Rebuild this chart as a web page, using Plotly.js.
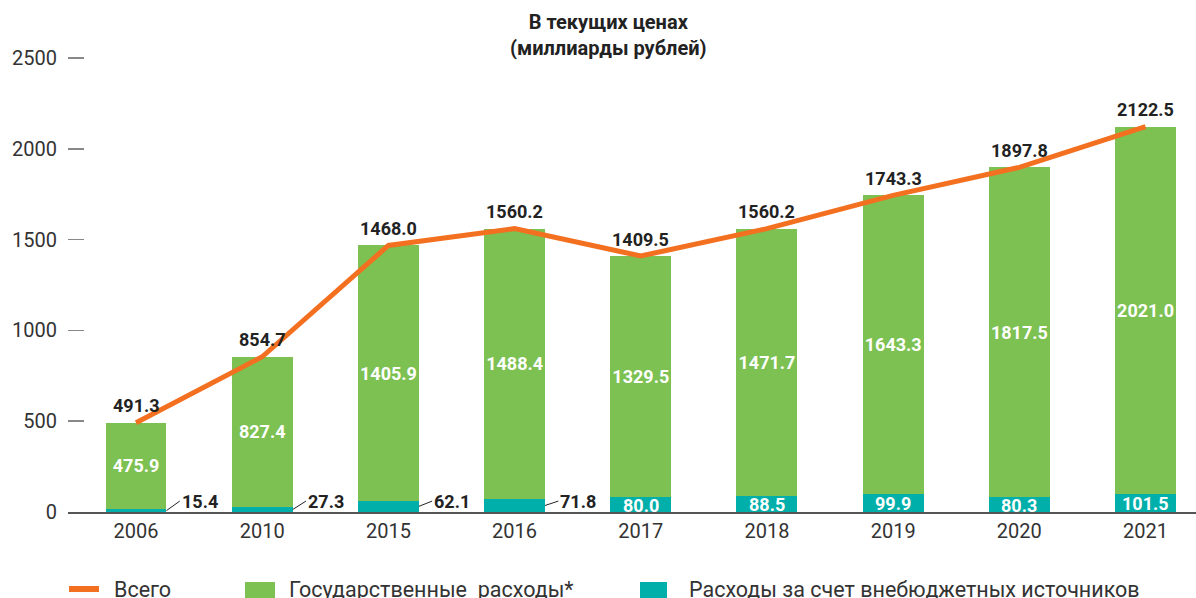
<!DOCTYPE html>
<html>
<head>
<meta charset="utf-8">
<script src="https://cdn.plot.ly/plotly-3.0.1.min.js"></script>
<style>html,body{margin:0;padding:0;background:#fff;}#chart{width:1196px;height:598px;}</style>
</head>
<body>
<div id="chart"></div>
<script>
const years = ['2006', '2010', '2015', '2016', '2017', '2018', '2019', '2020', '2021'];
const govSpend = [475.9, 827.4, 1405.9, 1488.4, 1329.5, 1471.7, 1643.3, 1817.5, 2021.0];
const extraBudget = [15.4, 27.3, 62.1, 71.8, 80.0, 88.5, 99.9, 80.3, 101.5];
const totals = [491.3, 854.7, 1468.0, 1560.2, 1409.5, 1560.2, 1743.3, 1897.8, 2122.5];
const leaderLabelYears = ['2006', '2010', '2015', '2016'];
const yTicks = [0, 500, 1000, 1500, 2000, 2500];
const seriesNames = ['Всего', 'Государственные\u00a0\u00a0расходы*', 'Расходы за счет внебюджетных источников'];
const titleText = 'В текущих ценах<br>(миллиарды рублей)';

const GREEN = '#7cc152';
const TEAL = '#00afaa';
const ORANGE = '#f37021';
const FONT = 'Roboto, "Noto Sans", sans-serif';
const W = 1196, H = 598;
const M = {l: 68, r: 0, t: 54, b: 86};
const YMAX = 2522;
const BARW = 0.483;
const plotW = W - M.l - M.r, plotH = H - M.t - M.b;
const px2paperX = p => (p - M.l) / plotW;
const px2paperY = p => (H - M.b - p) / plotH;

const traces = [
  {
    type: 'bar', x: years, y: extraBudget, name: seriesNames[2],
    marker: {color: TEAL}, width: BARW, hoverinfo: 'skip', showlegend: false
  },
  {
    type: 'bar', x: years, y: govSpend, name: seriesNames[1],
    marker: {color: GREEN}, width: BARW, hoverinfo: 'skip', showlegend: false,
    text: govSpend.map(v => v.toFixed(1)), textposition: 'inside',
    insidetextanchor: 'middle', textangle: 0, constraintext: 'none',
    insidetextfont: {family: FONT, size: 18, color: '#ffffff', weight: 700}
  },
  {
    type: 'scatter', mode: 'lines', x: years, y: totals, name: seriesNames[0],
    line: {color: ORANGE, width: 5}, hoverinfo: 'skip', showlegend: false
  }
];

const annotations = [];
// title
annotations.push({
  xref: 'paper', yref: 'paper', x: px2paperX(608), y: px2paperY(35),
  text: titleText, showarrow: false, xanchor: 'center', yanchor: 'middle',
  font: {family: FONT, size: 20, color: '#222', weight: 700}
});
// totals above bars
years.forEach((yr, i) => {
  annotations.push({
    x: i, y: totals[i], xref: 'x', yref: 'y', text: totals[i].toFixed(1),
    showarrow: false, yanchor: 'middle', yshift: 17,
    font: {family: FONT, size: 18, color: '#222', weight: 700}
  });
});
// extra-budget labels
years.forEach((yr, i) => {
  const v = extraBudget[i];
  if (leaderLabelYears.includes(yr)) {
    annotations.push({
      x: i + BARW / 2, y: v / 2, xref: 'x', yref: 'y',
      ax: i + BARW / 2 + 0.105, ay: 60, axref: 'x', ayref: 'y',
      text: v.toFixed(1), showarrow: true, arrowhead: 0, arrowwidth: 1,
      arrowcolor: '#222', xanchor: 'left', yanchor: 'middle', standoff: 0,
      font: {family: FONT, size: 18, color: '#222', weight: 700}
    });
  } else {
    annotations.push({
      x: i, y: v / 2, xref: 'x', yref: 'y', text: v.toFixed(1),
      showarrow: false, yanchor: 'middle', yshift: -1,
      font: {family: FONT, size: 18, color: '#ffffff', weight: 700}
    });
  }
});

// custom legend
const legendY = 589;
const shapes = [
  {type: 'line', xref: 'paper', yref: 'paper', x0: px2paperX(69), x1: px2paperX(99),
   y0: px2paperY(589), y1: px2paperY(589), line: {color: ORANGE, width: 6}},
  {type: 'rect', xref: 'paper', yref: 'paper', x0: px2paperX(245), x1: px2paperX(275),
   y0: px2paperY(582), y1: px2paperY(602), line: {width: 0}, fillcolor: GREEN},
  {type: 'rect', xref: 'paper', yref: 'paper', x0: px2paperX(640), x1: px2paperX(667),
   y0: px2paperY(582), y1: px2paperY(602), line: {width: 0}, fillcolor: TEAL}
];
[[112, seriesNames[0]], [287, seriesNames[1]], [687, seriesNames[2]]].forEach(([xp, t]) => {
  annotations.push({
    xref: 'paper', yref: 'paper', x: px2paperX(xp), y: px2paperY(legendY),
    text: t, showarrow: false, xanchor: 'left', yanchor: 'middle',
    font: {family: FONT, size: 21.5, color: '#333'}
  });
});

const layout = {
  width: W, height: H, margin: M,
  paper_bgcolor: '#fff', plot_bgcolor: '#fff',
  barmode: 'stack', showlegend: false,
  xaxis: {
    type: 'category', range: [-0.539, 8.4], showline: true, linecolor: '#555', linewidth: 1.5,
    ticks: '', showgrid: false, zeroline: false,
    tickfont: {family: FONT, size: 20, color: '#333'}
  },
  yaxis: {
    range: [0, YMAX], tickvals: yTicks, ticktext: yTicks.map(String),
    ticks: 'inside', ticklen: 16, tickwidth: 1.5, tickcolor: '#888',
    showline: false, showgrid: false, zeroline: false, ticklabelstandoff: 10,
    tickfont: {family: FONT, size: 20, color: '#333'}
  },
  shapes: shapes,
  annotations: annotations
};

Plotly.newPlot('chart', traces, layout, {displayModeBar: false, staticPlot: true});
</script>
</body>
</html>
